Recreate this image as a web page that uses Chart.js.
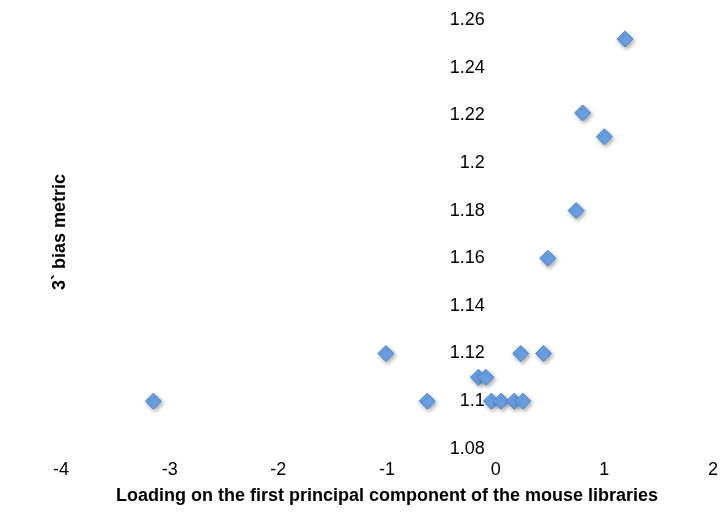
<!DOCTYPE html>
<html>
<head>
<meta charset="utf-8">
<script src="https://cdn.jsdelivr.net/npm/chart.js@4.4.1/dist/chart.umd.min.js"></script>
<style>
  html, body { margin: 0; padding: 0; background: #ffffff; }
  #wrap { width: 723px; height: 515px; position: relative; }
</style>
</head>
<body>
<div id="wrap"><canvas id="chart"></canvas></div>
<script>
// Loading on PC1 of each mouse library vs. its 3' bias metric
const loadingPC1 = [1.19, 0.80, 1.00, 0.74, 0.48, -1.01, 0.23, 0.44, -0.16, -0.09, -3.15, -0.63, -0.04, 0.05, 0.17, 0.25];
const biasMetric = [1.252, 1.221, 1.211, 1.18, 1.16, 1.12, 1.12, 1.12, 1.11, 1.11, 1.10, 1.10, 1.10, 1.10, 1.10, 1.10];

const xTickValues = [-4, -3, -2, -1, 0, 1, 2];
const yTickValues = [1.08, 1.10, 1.12, 1.14, 1.16, 1.18, 1.20, 1.22, 1.24, 1.26];

const xTitle = 'Loading on the first principal component of the mouse libraries';
const yTitle = '3` bias metric';

const FONT = '"Liberation Sans", Arial, sans-serif';

// the value-axis labels hang just left of x = 0, with a small gap
const yLabelAnchor = -0.1;

const points = loadingPC1.map((x, i) => ({ x: x, y: biasMetric[i] }));

// soft drop shadow under the markers
const markerShadow = {
  id: 'markerShadow',
  beforeDatasetsDraw(chart) {
    const ctx = chart.ctx;
    ctx.save();
    ctx.shadowColor = 'rgba(0,0,0,0.35)';
    ctx.shadowBlur = 4;
    ctx.shadowOffsetX = 1.5;
    ctx.shadowOffsetY = 2;
  },
  afterDatasetsDraw(chart) {
    chart.ctx.restore();
  }
};

// vertical axis title sits at the far left, away from the value labels
const leftTitle = {
  id: 'leftTitle',
  afterDraw(chart) {
    const ctx = chart.ctx;
    ctx.save();
    ctx.translate(60, 232);
    ctx.rotate(-Math.PI / 2);
    ctx.font = 'bold 18px ' + FONT;
    ctx.fillStyle = '#000000';
    ctx.textAlign = 'center';
    ctx.textBaseline = 'middle';
    ctx.fillText(yTitle, 0, 0);
    ctx.restore();
  }
};

new Chart(document.getElementById('chart'), {
  type: 'scatter',
  data: {
    datasets: [{
      data: points,
      pointStyle: 'rectRot',
      pointRadius: 8,
      pointHoverRadius: 8,
      backgroundColor: '#6aa1e4',
      borderColor: '#5289d2',
      borderWidth: 1
    }]
  },
  options: {
    responsive: true,
    maintainAspectRatio: false,
    animation: false,
    layout: { padding: { left: 61, right: 0, top: 20, bottom: 8 } },
    plugins: { legend: { display: false }, tooltip: { enabled: false } },
    scales: {
      x: {
        type: 'linear',
        min: -4,
        max: 2,
        afterBuildTicks(axis) { axis.ticks = xTickValues.map(v => ({ value: v })); },
        afterFit(axis) { axis.paddingLeft = 0; axis.paddingRight = 10; },
        grid: { display: false, drawTicks: false },
        border: { display: false },
        ticks: {
          padding: 10,
          color: '#000000',
          font: { family: FONT, size: 18 },
          maxRotation: 0
        },
        title: {
          display: true,
          text: xTitle,
          color: '#000000',
          font: { family: FONT, size: 18, weight: 'bold' },
          padding: { top: -5, bottom: 0 }
        }
      },
      y: {
        type: 'linear',
        position: { x: yLabelAnchor },
        min: 1.08,
        max: 1.26,
        afterBuildTicks(axis) { axis.ticks = yTickValues.map(v => ({ value: v })); },
        afterFit(axis) { axis.paddingTop = 0; axis.paddingBottom = 0; },
        grid: { display: false, drawTicks: false },
        border: { display: false },
        ticks: {
          padding: 27,
          color: '#000000',
          font: { family: FONT, size: 18 },
          callback: v => String(parseFloat(v.toFixed(2)))
        }
      }
    }
  },
  plugins: [markerShadow, leftTitle]
});
</script>
</body>
</html>
